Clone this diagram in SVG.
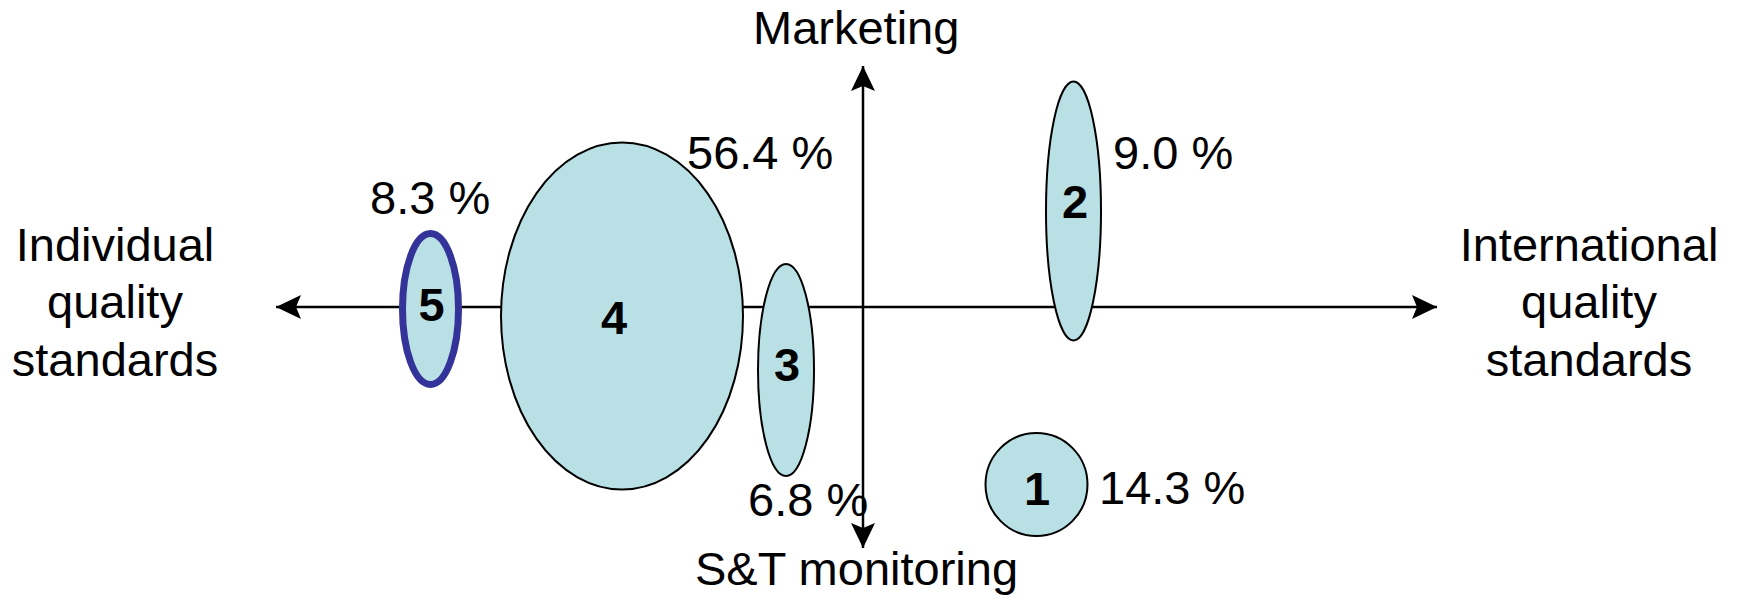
<svg xmlns="http://www.w3.org/2000/svg" width="1738" height="600" viewBox="0 0 1738 600">
  <style>
    .bubble { fill: #b9e0e4; stroke: #000; stroke-width: 2; }
    .bubble.hl { stroke: #333399; stroke-width: 7; }
    .axis { stroke: #000; stroke-width: 2.5; fill: none; }
    text { font-family: "Liberation Sans", Arial, sans-serif; font-size: 47px; fill: #000; }
    .num { font-weight: bold; text-anchor: middle; }
    .mid { text-anchor: middle; }
  </style>
  <defs>
    <marker id="tip" viewBox="0 0 26 26" refX="25" refY="13" markerWidth="26" markerHeight="26" markerUnits="userSpaceOnUse" orient="auto">
      <path d="M25 13 L0 1 L5 13 L0 25 Z" fill="#000"/>
    </marker>
  </defs>
  <rect width="1738" height="600" fill="#fff"/>

  <!-- axes -->
  <g id="connectors">
    <line class="axis" x1="863" y1="307" x2="276" y2="307" marker-end="url(#tip)"/>
    <line class="axis" x1="863" y1="307" x2="1437" y2="307" marker-end="url(#tip)"/>
    <line class="axis" x1="863" y1="307" x2="863" y2="66" marker-end="url(#tip)"/>
    <line class="axis" x1="863" y1="307" x2="863" y2="548" marker-end="url(#tip)"/>
  </g>

  <!-- axis labels -->
  <g id="axis-labels">
    <text x="753" y="44">Marketing</text>
    <text x="695" y="585">S&amp;T monitoring</text>
    <text class="mid" x="115" y="261">Individual</text>
    <text class="mid" x="115" y="318">quality</text>
    <text class="mid" x="115" y="376">standards</text>
    <text class="mid" x="1589" y="261">International</text>
    <text class="mid" x="1589" y="318">quality</text>
    <text class="mid" x="1589" y="376">standards</text>
  </g>

  <g id="cluster-5">
    <ellipse class="bubble hl" cx="430.5" cy="309" rx="28" ry="75.5"/>
    <text class="num" x="431.5" y="321">5</text>
    <text x="370" y="214">8.3 %</text>
  </g>

  <g id="cluster-4">
    <ellipse class="bubble" cx="622" cy="316" rx="121" ry="173.5"/>
    <text class="num" x="614" y="334">4</text>
    <text x="687" y="169">56.4 %</text>
  </g>

  <g id="cluster-3">
    <ellipse class="bubble" cx="786" cy="370" rx="28" ry="106"/>
    <text class="num" x="787" y="381">3</text>
    <text x="748" y="516">6.8 %</text>
  </g>

  <g id="cluster-2">
    <ellipse class="bubble" cx="1073.5" cy="211" rx="27.5" ry="129.5"/>
    <text class="num" x="1075" y="218">2</text>
    <text x="1113" y="169">9.0 %</text>
  </g>

  <g id="cluster-1">
    <ellipse class="bubble" cx="1036.5" cy="484.5" rx="51" ry="51.5"/>
    <text class="num" x="1037" y="505">1</text>
    <text x="1099" y="504">14.3 %</text>
  </g>
</svg>
